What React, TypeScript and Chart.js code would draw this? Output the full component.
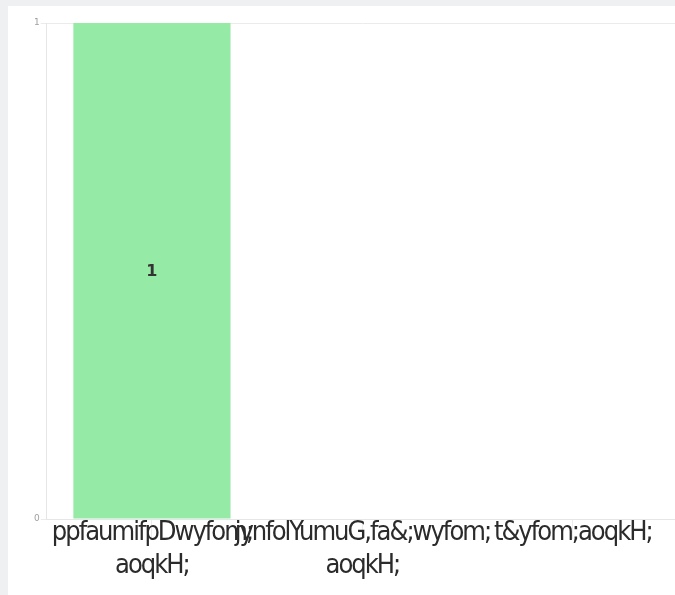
import React, { useEffect, useRef } from "react";
import { Chart, registerables } from "chart.js";

Chart.register(...registerables);

const categories: (string | string[])[] = [
  ["ppfaumifpDwyfom;", "aoqkH;"],
  ["jynfolYumuG,fa&;wyfom;", "aoqkH;"],
  "t&yfom;aoqkH;",
];
const seriesValues: number[] = [1, 0, 0];
const yTicks: number[] = [0, 1];

const spacingPlugin = {
  id: "tightLabels",
  beforeDraw(chart: any) {
    (chart.ctx as any).letterSpacing = "-2px";
  },
  beforeDatasetsDraw(chart: any) {
    (chart.ctx as any).letterSpacing = "0px";
  },
};

const valueLabelPlugin = {
  id: "valueLabels",
  afterDatasetsDraw(chart: any) {
    const { ctx } = chart;
    chart.data.datasets.forEach((ds: any, di: number) => {
      const meta = chart.getDatasetMeta(di);
      meta.data.forEach((bar: any, i: number) => {
        const v = ds.data[i];
        if (!v) return;
        const props = bar.getProps(["x", "y", "base"], true);
        ctx.save();
        ctx.letterSpacing = "0px";
        ctx.font = "bold 16px 'DejaVu Sans', sans-serif";
        ctx.fillStyle = "#333333";
        ctx.textAlign = "center";
        ctx.textBaseline = "middle";
        ctx.fillText(String(v), props.x, (props.y + props.base) / 2 + 1);
        ctx.restore();
      });
    });
  },
};

export default function App() {
  const ref = useRef<HTMLCanvasElement | null>(null);

  useEffect(() => {
    document.body.style.margin = "0";
    document.body.style.background = "#eef0f2";
    document.documentElement.style.overflow = "hidden";
    const chart = new Chart(ref.current as HTMLCanvasElement, {
      type: "bar",
      data: {
        labels: categories,
        datasets: [
          {
            data: seriesValues,
            backgroundColor: "#95eba5",
            borderWidth: 0,
            barPercentage: 0.83,
            categoryPercentage: 0.9,
          },
        ],
      },
      options: {
        animation: false,
        responsive: false,
        layout: { padding: { left: 21, right: 20, top: 17, bottom: 0 } },
        plugins: { legend: { display: false }, tooltip: { enabled: false } },
        scales: {
          x: {
            afterFit: (scale: any) => {
              scale.height = 77;
            },
            grid: {
              display: true,
              drawOnChartArea: false,
              offset: false,
              color: "#ececec",
              tickLength: 20,
            },
            border: { color: "#e6e6e6" },
            ticks: {
              autoSkip: false,
              maxRotation: 0,
              minRotation: 0,
              padding: -22,
              color: "#2b2b2b",
              font: { family: "'Liberation Sans Narrow', 'DejaVu Sans Condensed', sans-serif", size: 27 },
            },
          },
          y: {
            min: 0,
            max: 1,
            afterBuildTicks: (axis: any) => {
              axis.ticks = yTicks.map((v) => ({ value: v }));
            },
            grid: { color: "#ebebeb", tickLength: 6 },
            border: { color: "#e6e6e6" },
            ticks: {
              color: "#a0a0a0",
              font: { family: "'DejaVu Sans', sans-serif", size: 9 },
            },
          },
        },
      },
      plugins: [spacingPlugin, valueLabelPlugin],
    });
    return () => chart.destroy();
  }, []);

  return (
    <div style={{ paddingTop: 6, paddingLeft: 8 }}>
      <div style={{ background: "#ffffff", width: 700, height: 600 }}>
        <canvas ref={ref} width={690} height={590} style={{ display: "block" }} />
      </div>
    </div>
  );
}
